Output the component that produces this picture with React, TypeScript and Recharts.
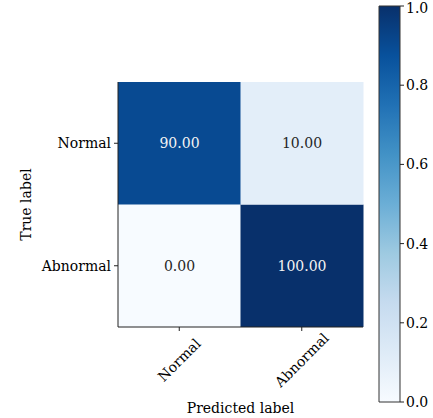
import { BarChart, Bar, XAxis, YAxis, Cell, LabelList } from 'recharts';

// confusion matrix (%), rows = true label, cols = predicted label
const classes = ['Normal', 'Abnormal'];
const normalRow = [90, 10];
const abnormalRow = [0, 100];
const colorbarTicks = [0, 0.2, 0.4, 0.6, 0.8, 1.0];

// matplotlib "Blues" anchor colours
const blues = ['#f7fbff', '#deebf7', '#c6dbef', '#9ecae1', '#6baed6', '#4292c6', '#2171b5', '#08519c', '#08306b'];

const FONT = 'DejaVu Serif';
const FS = 14;

function hexToRgb(h: string) {
  return [1, 3, 5].map((i) => parseInt(h.slice(i, i + 2), 16));
}

function bluesColor(t: number) {
  const pos = Math.max(0, Math.min(1, t)) * (blues.length - 1);
  const i = Math.min(Math.floor(pos), blues.length - 2);
  const f = pos - i;
  const a = hexToRgb(blues[i]);
  const b = hexToRgb(blues[i + 1]);
  const c = a.map((v, k) => Math.round(v + (b[k] - v) * f));
  return `rgb(${c[0]},${c[1]},${c[2]})`;
}

const maxVal = Math.max(...normalRow, ...abnormalRow);

// one row per predicted class; the two stacked segments are the true-label cells
const data = classes.map((pred, i) => ({
  pred,
  abnormalCell: 1,
  normalCell: 1,
  abnormalVal: abnormalRow[i],
  normalVal: normalRow[i]
}));

const cellLabel = (props: any) => {
  const { x, y, width, height, value } = props;
  const dark = value / maxVal > 0.5;
  return (
    <text
      x={x + width / 2}
      y={y + height / 2}
      textAnchor="middle"
      dominantBaseline="central"
      fontFamily={FONT}
      fontSize={FS}
      fill={dark ? '#f4f4f4' : '#262626'}
    >
      {Number(value).toFixed(2)}
    </text>
  );
};

const xTick = (props: any) => {
  const { x, y, payload } = props;
  const cx = x;
  const cy = y + 27;
  return (
    <text
      x={cx}
      y={cy}
      textAnchor="middle"
      dominantBaseline="central"
      fontFamily={FONT}
      fontSize={FS}
      fill="#000"
      transform={`rotate(-45 ${cx} ${cy})`}
    >
      {payload.value}
    </text>
  );
};

export default function App() {
  return (
    <div style={{ position: 'absolute', left: 0, top: 0, width: 433, height: 418, background: '#fff', fontFamily: FONT }}>
      <BarChart
        width={433}
        height={418}
        data={data}
        margin={{ top: 82, right: 70, left: 10, bottom: 0 }}
        barCategoryGap={0}
        barGap={0}
        style={{ position: 'absolute', left: 0, top: 0 }}
      >
        <XAxis
          dataKey="pred"
          height={91}
          tick={xTick}
          tickSize={4}
          axisLine={{ stroke: '#222' }}
          tickLine={{ stroke: '#222' }}
          interval={0}
          label={{
            content: (p: any) => (
              <text
                x={p.viewBox.x + p.viewBox.width / 2}
                y={p.viewBox.y + 81}
                textAnchor="middle"
                dominantBaseline="central"
                fontFamily={FONT}
                fontSize={FS}
                fill="#000"
              >
                Predicted label
              </text>
            )
          }}
        />
        <XAxis xAxisId="top" orientation="top" dataKey="pred" height={0} tick={false} tickLine={false} axisLine={{ stroke: '#222' }} />
        <YAxis
          type="number"
          domain={[0, 2]}
          ticks={[0.5, 1.5]}
          width={108}
          tickSize={4}
          tickMargin={3}
          tickFormatter={(v) => (v > 1 ? classes[0] : classes[1])}
          tick={{ fontFamily: FONT, fontSize: FS, fill: '#000' }}
          axisLine={{ stroke: '#222' }}
          tickLine={{ stroke: '#222' }}
          label={{
            content: (p: any) => {
              const cx = p.viewBox.x + 16;
              const cy = p.viewBox.y + p.viewBox.height / 2;
              return (
                <text
                  x={cx}
                  y={cy}
                  textAnchor="middle"
                  dominantBaseline="central"
                  fontFamily={FONT}
                  fontSize={FS}
                  fill="#000"
                  transform={`rotate(-90 ${cx} ${cy})`}
                >
                  True label
                </text>
              );
            }
          }}
        />
        <YAxis yAxisId="right" orientation="right" domain={[0, 2]} width={0} tick={false} tickLine={false} axisLine={{ stroke: '#222' }} />
        <Bar dataKey="abnormalCell" stackId="m" isAnimationActive={false}>
          {data.map((d) => (
            <Cell key={d.pred} fill={bluesColor(d.abnormalVal / maxVal)} />
          ))}
          <LabelList dataKey="abnormalVal" content={cellLabel} />
        </Bar>
        <Bar dataKey="normalCell" stackId="m" isAnimationActive={false}>
          {data.map((d) => (
            <Cell key={d.pred} fill={bluesColor(d.normalVal / maxVal)} />
          ))}
          <LabelList dataKey="normalVal" content={cellLabel} />
        </Bar>
      </BarChart>

      <BarChart
        width={433}
        height={418}
        data={[{ name: 'cbar', span: colorbarTicks[colorbarTicks.length - 1] }]}
        margin={{ top: 6, right: 3, left: 379, bottom: 16 }}
        barCategoryGap={0}
        style={{ position: 'absolute', left: 0, top: 0 }}
      >
        <defs>
          <linearGradient id="cbar" x1="0" y1="1" x2="0" y2="0">
            {blues.map((c, i) => (
              <stop key={c} offset={`${(i / (blues.length - 1)) * 100}%`} stopColor={c} />
            ))}
          </linearGradient>
        </defs>
        <XAxis dataKey="name" hide />
        <YAxis
          orientation="right"
          type="number"
          domain={[0, 1]}
          ticks={colorbarTicks}
          width={30}
          tickSize={4}
          tickMargin={2}
          axisLine={false}
          tickLine={{ stroke: '#222' }}
          tickFormatter={(v) => Number(v).toFixed(1)}
          tick={{ fontFamily: FONT, fontSize: FS, fill: '#000', textAnchor: 'start' }}
        />
        <Bar dataKey="span" fill="url(#cbar)" stroke="#333" strokeWidth={1} isAnimationActive={false} />
      </BarChart>
    </div>
  );
}
